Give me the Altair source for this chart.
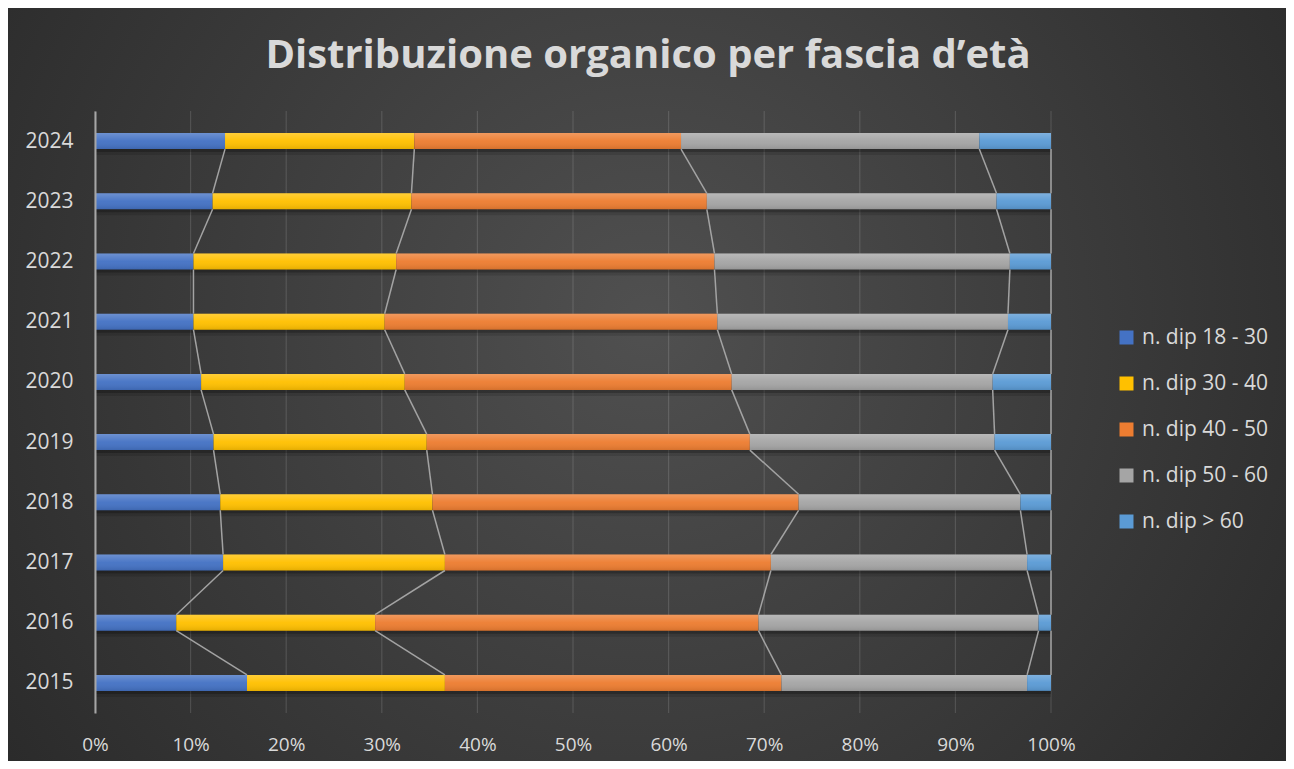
import json
import altair as alt
import pandas as pd

# ---------------- data ----------------
years = [2024, 2023, 2022, 2021, 2020, 2019, 2018, 2017, 2016, 2015]
series = ["n. dip 18 - 30", "n. dip 30 - 40", "n. dip 40 - 50", "n. dip 50 - 60", "n. dip > 60"]
dip_18_30 = [13.6, 12.3, 10.3, 10.3, 11.1, 12.4, 13.1, 13.4, 8.5, 15.9]
dip_30_40 = [19.8, 20.8, 21.2, 20.0, 21.3, 22.3, 22.2, 23.2, 20.8, 20.7]
dip_40_50 = [27.9, 30.9, 33.3, 34.8, 34.2, 33.8, 38.3, 34.1, 40.1, 35.2]
dip_50_60 = [31.2, 30.3, 30.9, 30.4, 27.3, 25.6, 23.2, 26.8, 29.3, 25.7]
dip_60_plus = [7.5, 5.7, 4.3, 4.5, 6.1, 5.9, 3.2, 2.5, 1.3, 2.5]
x_ticks = [0, 0.1, 0.2, 0.3, 0.4, 0.5, 0.6, 0.7, 0.8, 0.9, 1.0]
colors = ["#4472C4", "#FFC000", "#ED7D31", "#A5A5A5", "#5B9BD5"]
title_text = "Distribuzione organico per fascia d\u2019et\u00e0"

values = [dip_18_30, dip_30_40, dip_40_50, dip_50_60, dip_60_plus]

# ---------------- tables ----------------
rows = []
ends = []
for i, y in enumerate(years):
    tot = sum(v[i] for v in values)
    cum = 0.0
    row_ends = []
    for k, s in enumerate(series):
        start = cum / tot
        cum += values[k][i]
        end = cum / tot
        rows.append({"idx": i, "year": y, "series": s, "order": k, "start": start, "end": end})
        row_ends.append(end)
    ends.append(row_ends)
bars = pd.DataFrame(rows)

full = pd.DataFrame({"idx": list(range(len(years))), "start": [0.0] * len(years), "end": [1.0] * len(years)})

lines = []
for k in range(len(series)):
    for i in range(len(years) - 1):
        lines.append({"x": ends[i][k], "x2": ends[i + 1][k], "y": i, "y2": i + 1})
lines = pd.DataFrame(lines)

grid = pd.DataFrame({"t": x_ticks})
one = pd.DataFrame({"title": [title_text]})

W, H = 956, 602
PL, PT, PR, PB = 87, 103, 235, 48
TXT = "#d9d9d9"
FONT = "Open Sans"

yscale = alt.Scale(domain=[-0.5, len(years) - 0.5], reverse=True, nice=False, zero=False, padding=0)
xscale = alt.Scale(domain=[0, 1], nice=False, padding=0)
label_expr = json.dumps([str(y) for y in years]) + "[datum.value]"

# background
bg = alt.Chart(one).mark_rect(
    fill={
        "gradient": "radial",
        "x1": 0.5, "y1": 0.45, "r1": 0,
        "x2": 0.5, "y2": 0.45, "r2": 0.72,
        "stops": [
            {"offset": 0, "color": "#505050"},
            {"offset": 1, "color": "#242424"},
        ],
    }
).encode(
    x=alt.value(-PL), x2=alt.value(W + PR), y=alt.value(-PT), y2=alt.value(H + PB)
)

title = alt.Chart(one).mark_text(
    font=FONT, fontSize=40, fontWeight="bold", color=TXT, align="center", baseline="alphabetic"
).encode(text="title:N", x=alt.value(553), y=alt.value(-43))

gridlines = alt.Chart(grid).mark_rule(color="#ffffff", opacity=0.13, strokeWidth=1.2).encode(
    x=alt.X("t:Q", scale=xscale,
            axis=alt.Axis(values=x_ticks, format=".0%", grid=False, domain=False, ticks=False,
                          labelColor=TXT, labelFont=FONT, labelFontSize=19, labelPadding=22,
                          labelFlush=False, title=None, zindex=1))
)

shadow1 = alt.Chart(full).mark_bar(size=16, color="#000000", opacity=0.22, yOffset=3, orient="horizontal").encode(
    x=alt.X("start:Q", scale=xscale), x2="end:Q", y=alt.Y("idx:Q", scale=yscale)
)
shadow2 = alt.Chart(full).mark_bar(size=16, color="#000000", opacity=0.12, yOffset=6, orient="horizontal").encode(
    x=alt.X("start:Q", scale=xscale), x2="end:Q", y=alt.Y("idx:Q", scale=yscale)
)

main = alt.Chart(bars).mark_bar(size=16, orient="horizontal").encode(
    x=alt.X("start:Q", scale=xscale),
    x2="end:Q",
    y=alt.Y("idx:Q", scale=yscale,
            axis=alt.Axis(values=list(range(len(years))), labelExpr=label_expr, grid=False,
                          ticks=False, domain=True, domainColor="#a6a6a6", domainWidth=2,
                          labelColor=TXT, labelFont=FONT, labelFontSize=21, labelPadding=22,
                          title=None, zindex=1)),
    color=alt.Color("series:N", scale=alt.Scale(domain=series, range=colors),
                    legend=alt.Legend(title=None, orient="none", legendX=1021, legendY=216,
                                      symbolType="square", symbolSize=196, symbolStrokeWidth=0,
                                      labelColor=TXT, labelFont=FONT, labelFontSize=21,
                                      labelOffset=5, rowPadding=24, zindex=1)),
)

shine = alt.Chart(full).mark_bar(
    size=16, orient="horizontal",
    fill={
        "gradient": "linear", "x1": 0, "y1": 0, "x2": 0, "y2": 1,
        "stops": [
            {"offset": 0, "color": "rgba(255,255,255,0.22)"},
            {"offset": 0.5, "color": "rgba(255,255,255,0.04)"},
            {"offset": 1, "color": "rgba(0,0,0,0.10)"},
        ],
    },
).encode(x=alt.X("start:Q", scale=xscale), x2="end:Q", y=alt.Y("idx:Q", scale=yscale))

series_lines = alt.Chart(lines).mark_rule(color="#a3a3a3", strokeWidth=1.5, yOffset=8, y2Offset=-8).encode(
    x=alt.X("x:Q", scale=xscale), x2="x2:Q", y=alt.Y("y:Q", scale=yscale), y2="y2:Q"
)

chart = alt.layer(bg, gridlines, shadow2, shadow1, main, shine, series_lines, title).properties(
    width=W, height=H,
    autosize=alt.AutoSizeParams(type="none"),
    padding={"left": PL, "top": PT, "right": PR, "bottom": PB},
).configure(background="#2e2e2e").configure_view(stroke=None)

chart.save("out.html", embed_options={"renderer": "svg", "actions": False})
